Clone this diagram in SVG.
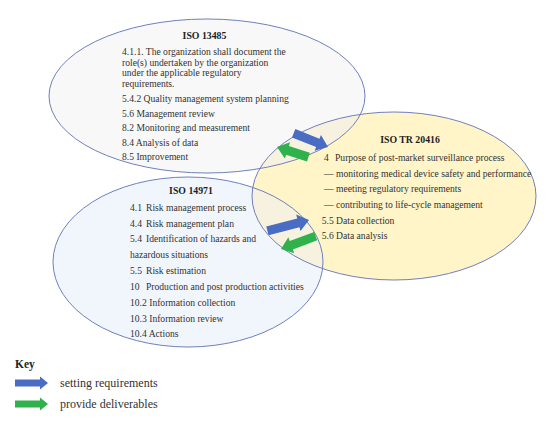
<svg xmlns="http://www.w3.org/2000/svg" width="554" height="425" viewBox="0 0 554 425">
<style>
.ell{stroke:#6f80bd;stroke-width:1}
.t{font-family:"Liberation Serif","Times New Roman",serif;font-size:9.6px;fill:#333333}
.h{font-family:"Liberation Serif","Times New Roman",serif;font-size:9.8px;font-weight:bold;fill:#1e1e1e}
.blue{fill:#4a6cc3}
.green{fill:#2fb24c}
.ov{fill:#f6f2df}
</style>
<defs>
<clipPath id="cTR"><ellipse cx="394" cy="196" rx="142" ry="84"/></clipPath>
</defs>
<rect width="554" height="425" fill="#ffffff"/>
<g id="iso13485-shape">
<ellipse cx="207" cy="96" rx="158" ry="77" fill="#f8f8f8"/>
</g>
<g id="iso14971-shape">
<ellipse cx="188" cy="262" rx="135" ry="85" fill="#f1f6fc"/>
</g>
<g id="isotr20416-shape">
<ellipse cx="394" cy="196" rx="142" ry="84" fill="#fff5c9"/>
<g clip-path="url(#cTR)">
<ellipse class="ov" cx="207" cy="96" rx="158" ry="77"/>
<ellipse class="ov" cx="188" cy="262" rx="135" ry="85"/>
</g>
</g>
<g id="outlines" fill="none">
<ellipse class="ell" cx="207" cy="96" rx="158" ry="77"/>
<ellipse class="ell" cx="188" cy="262" rx="135" ry="85"/>
<ellipse class="ell" cx="394" cy="196" rx="142" ry="84"/>
</g>
<g id="iso13485">
<text class="h" x="204.5" y="38.5" text-anchor="middle">ISO 13485</text>
<text class="t" x="122" y="55">4.1.1. The organization shall document the</text>
<text class="t" x="122" y="65.7">role(s) undertaken by the organization</text>
<text class="t" x="122" y="76.3">under the applicable regulatory</text>
<text class="t" x="122" y="87">requirements.</text>
<text class="t" x="122" y="102">5.4.2 Quality management system planning</text>
<text class="t" x="122" y="116.7">5.6 Management review</text>
<text class="t" x="122" y="131.2">8.2 Monitoring and measurement</text>
<text class="t" x="122" y="145.8">8.4 Analysis of data</text>
<text class="t" x="122" y="160.3">8.5 Improvement</text>
</g>
<g id="isotr20416">
<text class="h" x="410" y="142.7" text-anchor="middle">ISO TR 20416</text>
<text class="t" x="324" y="161">4</text>
<text class="t" x="335" y="161">Purpose of post-market surveillance process</text>
<text class="t" x="324" y="176.5">— monitoring medical device safety and performance</text>
<text class="t" x="324" y="192.3">— meeting regulatory requirements</text>
<text class="t" x="324" y="208">— contributing to life-cycle management</text>
<text class="t" x="321.7" y="223.5">5.5 Data collection</text>
<text class="t" x="321.7" y="239.3">5.6 Data analysis</text>
</g>
<g id="iso14971">
<text class="h" x="191" y="194" text-anchor="middle">ISO 14971</text>
<text class="t" x="130" y="210.7">4.1</text><text class="t" x="146" y="210.7">Risk management process</text>
<text class="t" x="130" y="226.5">4.4</text><text class="t" x="146" y="226.5">Risk management plan</text>
<text class="t" x="130" y="242.3">5.4</text><text class="t" x="146" y="242.3">Identification of hazards and</text>
<text class="t" x="130" y="258">hazardous situations</text>
<text class="t" x="130" y="274">5.5</text><text class="t" x="146" y="274">Risk estimation</text>
<text class="t" x="130" y="290">10</text><text class="t" x="146" y="290">Production and post production activities</text>
<text class="t" x="130" y="305.8">10.2 Information collection</text>
<text class="t" x="130" y="321.7">10.3 Information review</text>
<text class="t" x="130" y="337.4">10.4 Actions</text>
</g>
<g id="connectors">
<polygon class="blue" transform="translate(328,147) rotate(21.8)" points="-37,-4.5 -11,-4.5 -11,-8.5 0,0 -11,8.5 -11,4.5 -37,4.5"/>
<polygon class="green" transform="translate(277,147) rotate(197.9)" points="-33,-4.5 -11,-4.5 -11,-8.5 0,0 -11,8.5 -11,4.5 -33,4.5"/>
<polygon class="blue" transform="translate(309,220) rotate(-14.7)" points="-43,-4.5 -11,-4.5 -11,-8.5 0,0 -11,8.5 -11,4.5 -43,4.5"/>
<polygon class="green" transform="translate(281,249) rotate(159.6)" points="-37,-4.5 -11,-4.5 -11,-8.5 0,0 -11,8.5 -11,4.5 -37,4.5"/>
</g>
<g id="key">
<text class="h" x="15" y="368" style="font-size:11.5px">Key</text>
<polygon class="blue" points="15,379.5 40,379.5 40,376.5 48,383 40,389.5 40,386.5 15,386.5"/>
<text class="t" x="60" y="386.5" style="font-size:12px">setting requirements</text>
<polygon class="green" points="15,400.5 40,400.5 40,397.5 48,404 40,410.5 40,407.5 15,407.5"/>
<text class="t" x="60" y="407.5" style="font-size:12px">provide deliverables</text>
</g>
</svg>
